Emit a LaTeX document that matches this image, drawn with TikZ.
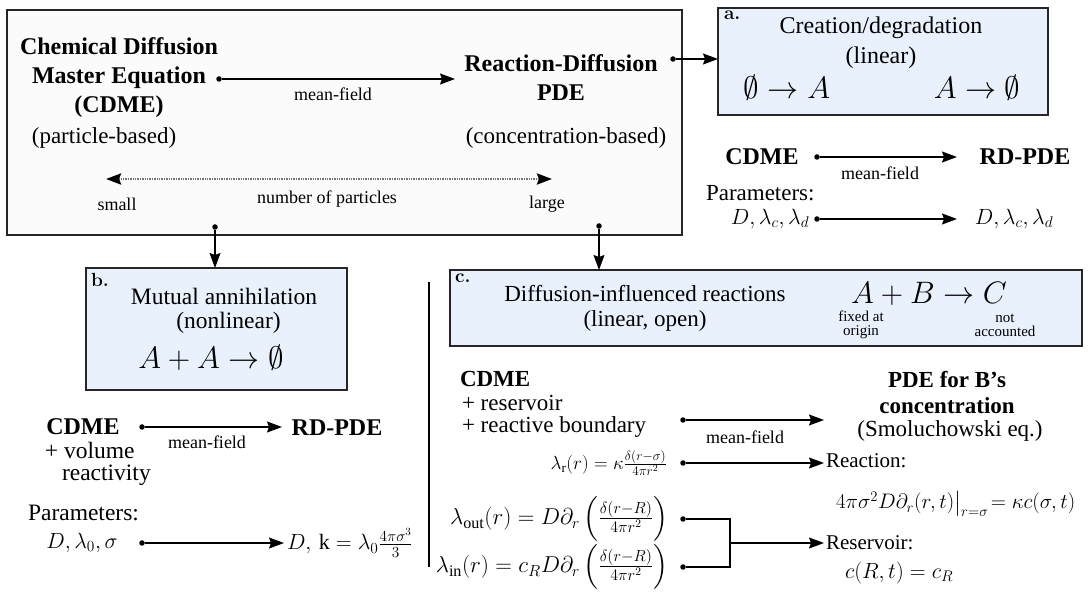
\RequirePackage{fix-cm}
\documentclass[tikz,border=0pt]{standalone}
\usepackage{amsmath}
\usepackage{fontspec}
\setmainfont{Liberation Serif}
\newfontfamily\lmfont{Latin Modern Roman}
\usetikzlibrary{arrows.meta}
\definecolor{boxblue}{RGB}{233,241,253}
\definecolor{mainfill}{RGB}{251,251,251}
\begin{document}
\begin{tikzpicture}[x=1pt,y=-1pt,
  every node/.style={inner sep=0pt, outer sep=0pt},
  txt/.style={font=\fontsize{23}{25}\selectfont, align=center},
  txtb/.style={font=\fontsize{24}{29}\selectfont\bfseries, align=center},
  mf/.style={font=\fontsize{18}{20}\selectfont},
  lab/.style={font=\fontsize{18}{20}\selectfont},
  tny/.style={font=\fontsize{15}{14}\selectfont, align=center},
  mth/.style={font=\fontsize{21}{24}\selectfont},
  bigm/.style={font=\fontsize{31}{33}\selectfont},
  panel/.style={draw=black!85, line width=1.3pt, fill=boxblue, anchor=north west},
  mainpanel/.style={draw=black!85, line width=1.3pt, fill=mainfill, anchor=north west},
  dotn/.style={circle, fill=black, minimum size=5.5pt},
  conn/.style={line width=1.2pt, -{Stealth[length=15pt,width=11pt,inset=2pt]}},
  plain/.style={line width=1.2pt},
  tag/.style={font=\lmfont\bfseries\fontsize{19}{19}\selectfont, anchor=north west},
]
\useasboundingbox (0,0) rectangle (1088,593);

% ---------- main box ----------
\node[mainpanel, minimum width=675pt, minimum height=225pt] (main) at (7,10) {};
\node[txtb] (cdme) at (119,78) {Chemical Diffusion\\Master Equation\\(CDME)};
\node[txt] (pb) at (104,138) {(particle-based)};
\node[txtb] (rd) at (561,78) {Reaction-Diffusion\\PDE};
\node[txt] (cb) at (566,138) {(concentration-based)};
\node[dotn] (d1) at (219,79) {};
\coordinate (e1) at (455,79);
\draw[conn] (d1) -- (e1);
\node[mf] (mf1) at (333,94) {mean-field};

\coordinate (sm) at (106,179);
\coordinate (lg) at (552,179);
\draw[line width=2.6pt, black!55, dash pattern=on 1.3pt off 1.1pt,
  {Stealth[length=15pt,width=11pt,inset=2pt,color=black]}-{Stealth[length=15pt,width=11pt,inset=2pt,color=black]}] (sm) -- (lg);
\node[lab] (small) at (117,204) {small};
\node[lab] (np) at (327,199) {number of particles};
\node[lab] (large) at (547,204) {large};

\node[dotn] (db) at (215,227) {};
\node[dotn] (dc) at (599,226) {};
\node[dotn] (da) at (673,59) {};

% ---------- panel a ----------
\node[panel, minimum width=330pt, minimum height=107pt] (ba) at (718,8) {};
\node[tag] (taga) at (724,11) {a.};
\node[txt, font=\fontsize{24}{30}\selectfont] (ta) at (881,43) {Creation/degradation\\(linear)};
\node[bigm] (ra1) at (787,88) {$\emptyset\rightarrow A$};
\node[bigm] (ra2) at (977,88) {$A\rightarrow\emptyset$};
\draw[conn] (da) -- (da -| ba.west);

\node[txtb] (cdmea) at (762,157) {CDME};
\node[dotn] (d2) at (817,157) {};
\coordinate (e2) at (957,157);
\draw[conn] (d2) -- (e2);
\node[mf] (mf2) at (880,173) {mean-field};
\node[txtb] (rdpa) at (1025,157) {RD-PDE};
\node[txt, anchor=west] (para) at (706,193) {Parameters:};
\node[mth, font=\fontsize{22}{24}\selectfont] (pa1) at (770,219) {$D,\lambda_c,\lambda_d$};
\node[dotn] (d3) at (817,219) {};
\coordinate (e3) at (957,219);
\draw[conn] (d3) -- (e3);
\node[mth, font=\fontsize{22}{24}\selectfont] (pa2) at (1014,219) {$D,\lambda_c,\lambda_d$};

% ---------- panel b ----------
\node[panel, minimum width=261pt, minimum height=122pt] (bb) at (86,268) {};
\node[tag] (tagb) at (91,273) {b.};
\node[txt, font=\fontsize{23.5}{24}\selectfont] (tb) at (224,311) {Mutual annihilation\\\hspace*{9pt}(nonlinear)};
\node[bigm] (rb) at (211,358) {$A+A\rightarrow\emptyset$};
\draw[conn] (db) -- (db |- bb.north);

\node[txtb] (cdmeb) at (83,427) {CDME};
\node[txt, font=\fontsize{23.5}{25}\selectfont, anchor=base west] (vol) at (45,459) {+ volume};
\node[txt, font=\fontsize{23.5}{25}\selectfont, anchor=base west] (react) at (62,481) {reactivity};
\node[dotn] (d4) at (142,427) {};
\coordinate (e4) at (282,427);
\draw[conn] (d4) -- (e4);
\node[mf] (mf3) at (207,442) {mean-field};
\node[txtb] (rdpb) at (337,428) {RD-PDE};
\node[txt, font=\fontsize{23.5}{25}\selectfont, anchor=west] (parb) at (28,513) {Parameters:};
\node[mth, font=\fontsize{22}{24}\selectfont] (pb1) at (82,543) {$D,\lambda_0,\sigma$};
\node[dotn] (d5) at (142,543) {};
\coordinate (e5) at (284,543);
\draw[conn] (d5) -- (e5);
\node[mth, font=\fontsize{22}{24}\selectfont, anchor=west] (pb2) at (287,543) {$D,\,\mathrm{k}=\lambda_0\frac{4\pi\sigma^3}{3}$};

\coordinate (v1) at (429,282);
\coordinate (v2) at (429,567);
\draw[plain] (v1) -- (v2);

% ---------- panel c ----------
\node[panel, minimum width=632pt, minimum height=76pt] (bc) at (450,270) {};
\node[tag] (tagc) at (455,274) {c.};
\node[txt] (tc) at (645,308) {Diffusion-influenced reactions\\(linear, open)};
\node[bigm] (rc) at (929,294) {$A+B\rightarrow C$};
\node[tny] (fx) at (861,325) {fixed at\\origin};
\node[tny] (na) at (1005,325) {not\\accounted};
\draw[conn] (dc) -- (dc |- bc.north);

\node[txtb, font=\fontsize{23}{26}\selectfont\bfseries, anchor=west] (cdmec) at (460,379) {CDME};
\node[txt, anchor=west] (res) at (462,403) {+ reservoir};
\node[txt, anchor=west] (rb2) at (462,427) {+ reactive boundary};
\node[dotn] (d6) at (683,420) {};
\coordinate (e6) at (824,420);
\draw[conn] (d6) -- (e6);
\node[mf] (mf4) at (745,437) {mean-field};
\node[txtb, font=\fontsize{23}{26}\selectfont\bfseries] (pdeb) at (947,393) {PDE for B's\\concentration};
\node[txt] (smol) at (950,431) {(Smoluchowski eq.)};

\node[mth, font=\fontsize{19}{22}\selectfont, anchor=east] (lr) at (667,463) {$\lambda_{\mathrm{r}}(r)=\kappa\frac{\delta(r-\sigma)}{4\pi r^2}$};
\node[dotn] (d7) at (683,463) {};
\coordinate (e7) at (824,463);
\draw[conn] (d7) -- (e7);
\node[txt, font=\fontsize{21}{23}\selectfont, anchor=west] (reac) at (826,461) {Reaction:};
\node[mth, anchor=west] (reacf) at (836,504) {$4\pi\sigma^2 D\partial_r(r,t)\big|_{r=\sigma}\!=\kappa c(\sigma,t)$};

\node[mth, font=\fontsize{23}{25}\selectfont, anchor=east] (lout) at (668,519) {$\lambda_{\mathrm{out}}(r)=D\partial_r\left(\rule[-17pt]{0pt}{42pt}\frac{\delta(r-R)}{4\pi r^2}\right)$};
\node[dotn] (d8) at (683,519) {};
\node[mth, font=\fontsize{23}{25}\selectfont, anchor=east] (lin) at (668,567) {$\lambda_{\mathrm{in}}(r)=c_R D\partial_r\left(\rule[-17pt]{0pt}{42pt}\frac{\delta(r-R)}{4\pi r^2}\right)$};
\node[dotn] (d9) at (683,567) {};
\coordinate (j) at (730,543);
\coordinate (e8) at (824,543);
\draw[plain] (d8) -- (d8 -| j) -- (d9 -| j) -- (d9);
\draw[conn] (j) -- (e8);
\node[txt, font=\fontsize{21}{23}\selectfont, anchor=west] (resv) at (826,543) {Reservoir:};
\node[mth, font=\fontsize{22}{24}\selectfont, anchor=west] (resvf) at (845,573) {$c(R,t)=c_R$};
\end{tikzpicture}
\end{document}
